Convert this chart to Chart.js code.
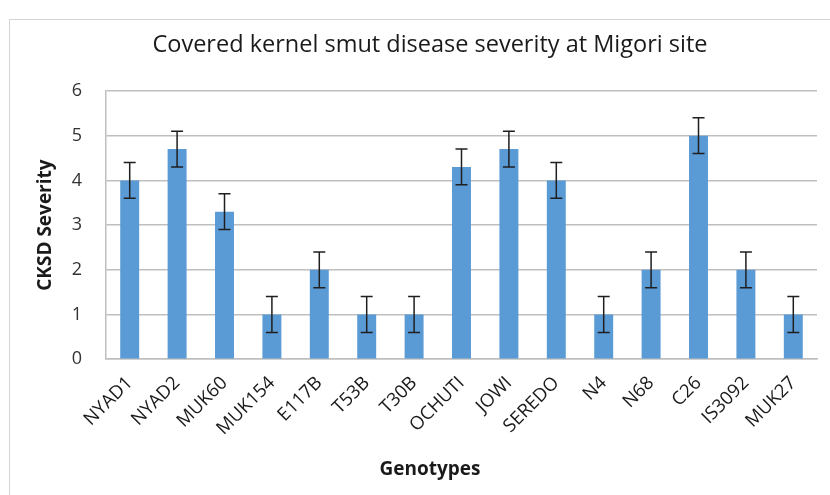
<!DOCTYPE html>
<html>
<head>
<meta charset="utf-8">
<script src="https://cdn.jsdelivr.net/npm/chart.js@4"></script>
<style>
  html, body { margin: 0; padding: 0; background: #fff; overflow: hidden; width: 830px; height: 495px; }
  #wrap { position: absolute; left: 0; top: 0; width: 860px; height: 495px; }
</style>
</head>
<body>
<div id="wrap"><canvas id="c" width="860" height="495"></canvas></div>
<script>
const genotypes = ["NYAD1", "NYAD2", "MUK60", "MUK154", "E117B", "T53B", "T30B", "OCHUTI", "JOWI", "SEREDO", "N4", "N68", "C26", "IS3092", "MUK27"];
const severity = [4, 4.7, 3.3, 1, 2, 1, 1, 4.3, 4.7, 4, 1, 2, 5, 2, 1];
const errors = [0.4, 0.4, 0.4, 0.4, 0.4, 0.4, 0.4, 0.4, 0.4, 0.4, 0.4, 0.4, 0.4, 0.4, 0.4];
const yTicks = [0, 1, 2, 3, 4, 5, 6];

const chartTitle = "Covered kernel smut disease severity at Migori site";
const yTitle = "CKSD Severity";
const xTitle = "Genotypes";

Chart.defaults.font.family = "'Open Sans', Lato, sans-serif";

const framePlugin = {
  id: 'frame',
  beforeDraw(chart) {
    const ctx = chart.ctx;
    ctx.save();
    ctx.fillStyle = '#ffffff';
    ctx.fillRect(0, 0, chart.width, chart.height);
    ctx.strokeStyle = '#d4d4d4';
    ctx.lineWidth = 1;
    ctx.strokeRect(9.5, 19.5, 3000, 3000);
    ctx.restore();
  }
};

const errorBarPlugin = {
  id: 'errorBars',
  afterDatasetsDraw(chart) {
    const ctx = chart.ctx;
    const meta = chart.getDatasetMeta(0);
    const yScale = chart.scales.y;
    ctx.save();
    ctx.strokeStyle = '#1f1f1f';
    ctx.lineWidth = 1.5;
    meta.data.forEach((bar, i) => {
      const v = severity[i], e = errors[i];
      const x = bar.x;
      const yt = yScale.getPixelForValue(v + e);
      const yb = yScale.getPixelForValue(v - e);
      const cap = 6;
      ctx.beginPath();
      ctx.moveTo(x, yt); ctx.lineTo(x, yb);
      ctx.moveTo(x - cap, yt); ctx.lineTo(x + cap, yt);
      ctx.moveTo(x - cap, yb); ctx.lineTo(x + cap, yb);
      ctx.stroke();
    });
    ctx.restore();
  }
};

new Chart(document.getElementById('c'), {
  type: 'bar',
  data: {
    labels: genotypes,
    datasets: [{
      data: severity,
      backgroundColor: '#5b9bd5',
      borderWidth: 0,
      barPercentage: 0.4,
      categoryPercentage: 1.0
    }]
  },
  options: {
    responsive: false,
    animation: false,
    devicePixelRatio: 1,
    layout: { padding: 0 },
    plugins: {
      legend: { display: false },
      tooltip: { enabled: false },
      title: {
        display: true,
        text: chartTitle,
        color: '#1a1a1a',
        font: { size: 23.5, weight: 'normal', lineHeight: 1.2 },
        padding: { top: 31, bottom: 31.8 }
      },
      subtitle: {
        display: true,
        position: 'bottom',
        text: xTitle,
        color: '#1a1a1a',
        font: { size: 19, weight: 'bold', lineHeight: 1.2 },
        padding: { top: 0, bottom: 14 }
      }
    },
    scales: {
      x: {
        grid: { display: false, drawTicks: false },
        border: { display: true, color: '#bfbfbf', width: 1.5 },
        ticks: {
          color: '#1a1a1a',
          font: { size: 18.5 },
          minRotation: 45,
          maxRotation: 45,
          padding: 13,
          autoSkip: false
        },
        afterFit(scale) { scale.height = 99; }
      },
      y: {
        min: 0,
        max: 6,
        afterBuildTicks(scale) { scale.ticks = yTicks.map(v => ({ value: v })); },
        grid: { color: '#bfbfbf', lineWidth: 1.5, drawTicks: false },
        border: { display: true, color: '#bfbfbf', width: 1.5 },
        ticks: {
          color: '#333333',
          font: { size: 18 },
          padding: 24
        },
        title: {
          display: true,
          text: yTitle,
          color: '#1a1a1a',
          font: { size: 19, weight: 'bold', lineHeight: 1.2 },
          padding: { top: 34.5, bottom: 0 }
        },
        afterFit(scale) { scale.width = 106; }
      },
      yRight: {
        position: 'right',
        display: true,
        grid: { display: false, drawTicks: false },
        border: { display: false },
        ticks: { display: false },
        afterFit(scale) { scale.width = 43; }
      }
    }
  },
  plugins: [framePlugin, errorBarPlugin]
});
</script>
</body>
</html>
